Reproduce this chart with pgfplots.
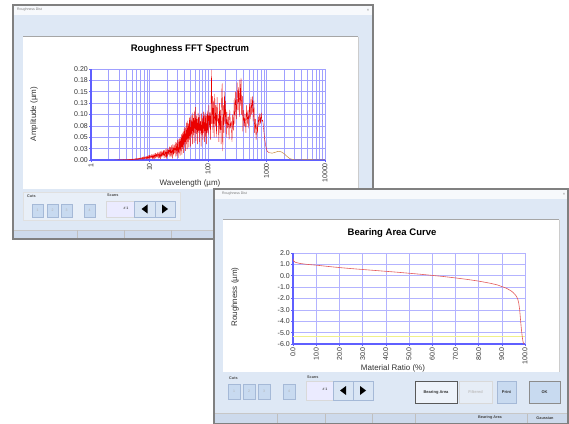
\documentclass[border=0pt]{standalone}
\usepackage{fontspec}
\setmainfont{Liberation Sans}
\usepackage{pgfplots}
\usepackage{pgfplotstable}
\pgfplotsset{compat=1.18}
\definecolor{winbody}{RGB}{222,232,245}
\definecolor{winframe}{RGB}{128,128,128}
\definecolor{titlebar}{RGB}{247,249,252}
\definecolor{statusbar}{RGB}{205,218,236}
\definecolor{btnfill}{RGB}{200,218,240}
\definecolor{btnedge}{RGB}{165,185,215}
\definecolor{groupfill}{RGB}{232,239,248}
\definecolor{gridc}{RGB}{160,160,255}
\definecolor{axisc}{RGB}{95,95,255}
\definecolor{curvered}{RGB}{235,0,0}
\definecolor{bearred}{RGB}{228,90,90}
\definecolor{tailc}{RGB}{200,140,60}
\definecolor{paleyel}{RGB}{240,240,140}

\pgfplotstableread{
lx amp
0.40 0.0000
0.45 0.0001
0.50 0.0005
0.51 0.0001
0.52 0.0005
0.53 0.0002
0.54 0.0006
0.55 0.0001
0.56 0.0008
0.57 0.0002
0.58 0.0008
0.59 0.0002
0.60 0.0010
0.61 0.0002
0.62 0.0010
0.63 0.0004
0.64 0.0012
0.65 0.0003
0.66 0.0015
0.67 0.0004
0.68 0.0016
0.69 0.0003
0.70 0.0020
0.71 0.0006
0.72 0.0020
0.73 0.0009
0.74 0.0026
0.75 0.0006
0.76 0.0030
0.77 0.0008
0.78 0.0034
0.79 0.0004
0.80 0.0040
0.81 0.0012
0.82 0.0038
0.83 0.0018
0.84 0.0050
0.85 0.0010
0.86 0.0052
0.87 0.0014
0.88 0.0062
0.89 0.0008
0.90 0.0070
0.91 0.0021
0.92 0.0065
0.93 0.0030
0.94 0.0080
0.95 0.0018
0.96 0.0085
0.97 0.0025
0.98 0.0098
0.99 0.0012
1.00 0.0110
1.01 0.0034
1.02 0.0100
1.03 0.0046
1.04 0.0125
1.05 0.0026
1.06 0.0122
1.07 0.0032
1.08 0.0140
1.09 0.0016
1.10 0.0150
1.11 0.0046
1.12 0.0138
1.13 0.0064
1.14 0.0165
1.15 0.0035
1.16 0.0165
1.17 0.0045
1.18 0.0190
1.19 0.0022
1.20 0.0200
1.21 0.0060
1.22 0.0180
1.23 0.0090
1.24 0.0215
1.25 0.0046
1.26 0.0215
1.27 0.0058
1.28 0.0245
1.29 0.0030
1.30 0.0260
1.31 0.0080
1.32 0.0240
1.33 0.0115
1.34 0.0290
1.35 0.0060
1.36 0.0280
1.37 0.0078
1.38 0.0325
1.39 0.0035
1.40 0.0340
1.41 0.0105
1.42 0.0320
1.43 0.0150
1.44 0.0390
1.45 0.0080
1.46 0.0380
1.47 0.0100
1.48 0.0440
1.49 0.0050
1.50 0.0450
1.508 0.015
1.515 0.047
1.523 0.010
1.530 0.050
1.538 0.020
1.545 0.056
1.553 0.012
1.560 0.058
1.568 0.025
1.575 0.062
1.583 0.016
1.590 0.068
1.598 0.030
1.605 0.072
1.613 0.020
1.620 0.070
1.628 0.035
1.635 0.082
1.643 0.024
1.650 0.086
1.658 0.040
1.665 0.080
1.673 0.028
1.680 0.092
1.688 0.045
1.695 0.095
1.703 0.030
1.710 0.088
1.718 0.050
1.725 0.098
1.733 0.035
1.740 0.104
1.748 0.055
1.755 0.092
1.763 0.038
1.770 0.108
1.778 0.060
1.785 0.116
1.793 0.042
1.800 0.098
1.808 0.058
1.815 0.090
1.823 0.035
1.830 0.104
1.838 0.060
1.845 0.094
1.853 0.040
1.860 0.100
1.868 0.065
1.875 0.085
1.883 0.030
1.890 0.102
1.898 0.055
1.905 0.092
1.913 0.045
1.920 0.106
1.928 0.060
1.935 0.098
1.943 0.040
1.950 0.104
1.958 0.050
1.965 0.096
1.973 0.035
1.980 0.100
1.988 0.060
1.995 0.108
2.005 0.055
2.015 0.120
2.025 0.070
2.035 0.105
2.045 0.045
2.055 0.150
2.060 0.198
2.067 0.080
2.075 0.140
2.085 0.060
2.095 0.130
2.105 0.050
2.115 0.145
2.125 0.075
2.135 0.120
2.145 0.050
2.155 0.138
2.165 0.085
2.175 0.100
2.185 0.040
2.195 0.125
2.205 0.060
2.215 0.110
2.225 0.035
2.235 0.150
2.243 0.168
2.252 0.020
2.262 0.120
2.272 0.060
2.282 0.150
2.292 0.080
2.302 0.130
2.312 0.050
2.322 0.105
2.335 0.070
2.348 0.095
2.360 0.045
2.372 0.110
2.385 0.070
2.398 0.085
2.410 0.040
2.422 0.100
2.435 0.065
2.448 0.135
2.460 0.080
2.472 0.150
2.485 0.090
2.498 0.170
2.510 0.110
2.522 0.160
2.535 0.095
2.545 0.176
2.555 0.120
2.565 0.180
2.575 0.100
2.587 0.140
2.597 0.063
2.610 0.110
2.622 0.075
2.635 0.100
2.648 0.060
2.660 0.120
2.672 0.080
2.685 0.110
2.697 0.070
2.710 0.125
2.722 0.090
2.735 0.138
2.747 0.100
2.760 0.140
2.772 0.085
2.785 0.130
2.797 0.060
2.810 0.090
2.822 0.045
2.835 0.080
2.847 0.060
2.860 0.095
2.872 0.075
2.885 0.102
2.897 0.080
2.910 0.104
2.922 0.085
2.935 0.088
2.950 0.070
2.965 0.050
2.980 0.036
2.995 0.026
3.010 0.020
3.030 0.017
3.050 0.016
}\fftdata

\pgfplotstableread{
lx amp
3.05 0.016
3.10 0.015
3.15 0.017
3.20 0.019
3.25 0.018
3.30 0.014
3.35 0.008
3.40 0.003
3.45 0.001
3.50 0.000
3.60 0.0005
3.70 0.001
3.80 0.0005
3.90 0.000
4.00 0.000
}\taildata

\pgfplotstableread{
mr rough
0 1.50
0.3 1.30
1 1.18
3 1.08
6 1.00
10 0.93
15 0.82
20 0.72
25 0.63
30 0.55
35 0.47
40 0.39
45 0.31
50 0.22
55 0.13
60 0.03
65 -0.07
70 -0.19
75 -0.32
80 -0.47
85 -0.66
88 -0.80
90 -0.95
92 -1.10
94 -1.33
95 -1.50
96 -1.72
96.8 -2.00
97.3 -2.40
97.7 -3.00
98.0 -3.70
98.3 -4.40
98.6 -5.00
98.9 -5.50
99.2 -5.85
99.5 -6.00
}\beardata

\pgfplotsset{
 winplot/.style={
  scale only axis, anchor=south west,
  axis x line*=bottom, axis y line*=left,
  axis line style={-, axisc, line width=1.5pt},
  x axis line style={-}, y axis line style={-},
  grid=both,
  major grid style={gridc, line width=0.5pt},
  minor grid style={gridc, line width=0.5pt},
  tick style={axisc, line width=0.5pt},
  major tick length=2pt, minor tick length=0pt,
  tick align=outside,
  ticklabel style={font=\fontsize{7}{8}\selectfont, text=black!80},
  yticklabel style={inner sep=1pt},
  xticklabel style={rotate=90, anchor=east, inner sep=1pt},
 }
}

\begin{document}
\begin{tikzpicture}[x=1pt,y=1pt]
\fill[white] (0,0) rectangle (569,423);
\useasboundingbox (0,0) rectangle (569,423);

% ---------------- Window 1 ----------------
\fill[winbody] (13,184) rectangle (373,418);
\fill[titlebar] (13,408) rectangle (373,418);
\node[anchor=west, font=\fontsize{3.5}{4}\selectfont, text=black!55, inner sep=0] at (17,413) {Roughness Dist};
\node[font=\fontsize{4}{4}\selectfont, text=black!55, inner sep=0] at (368,413) {×};
\draw[black!35, line width=0.6pt] (23,387) -- (358,387);
\fill[white] (23,234) rectangle (358,386);
\draw[black!20, line width=0.5pt] (358,234) -- (358,386);
\filldraw[fill=groupfill, draw=black!12, line width=0.4pt] (23,203) rectangle (180,231);
\node[anchor=west, font=\fontsize{3.8}{4}\selectfont\bfseries, text=black!70, inner sep=0] at (27,226.5) {Cuts};
\node[anchor=west, font=\fontsize{3.8}{4}\selectfont\bfseries, text=black!70, inner sep=0] at (107,227.5) {Scans};
\foreach \a/\b/\t in {32/43/1, 47/58/2, 61/72/3, 84/95/4}{
  \filldraw[fill=btnfill, draw=btnedge, line width=0.4pt] (\a,206) rectangle (\b,219);
  \node[font=\fontsize{3.5}{4}\selectfont, text=black!30, inner sep=0] at ({(\a+\b)/2},212.5) {\t};
}
\filldraw[fill=white!92!blue, draw=black!15, line width=0.4pt] (106,206) rectangle (134,222);
\node[font=\fontsize{3.5}{4}\selectfont\bfseries, text=black!70, inner sep=0] at (126,214.5) {\# 1};
\filldraw[fill=btnfill!70!white, draw=btnedge, line width=0.4pt] (134,206) rectangle (155,222);
\filldraw[fill=btnfill!70!white, draw=btnedge, line width=0.4pt] (155,206) rectangle (175,222);
\fill[black] (141.5,214) -- (147.5,218.5) -- (147.5,209.5) -- cycle;
\fill[black] (168,214) -- (162,218.5) -- (162,209.5) -- cycle;
\fill[statusbar] (13,184) rectangle (373,193);
\draw[black!22, line width=0.4pt] (13,193) -- (373,193);
\foreach \s in {77,124,171}{\draw[black!25, line width=0.4pt] (\s,184) -- (\s,193);}
\draw[winframe, line width=1.4pt] (13,184) rectangle (373,418);

% ---------------- Chart 1 ----------------
\node[font=\fontsize{9.5}{11}\selectfont\bfseries] at (190,374) {Roughness FFT Spectrum};
\node[font=\fontsize{8}{9}\selectfont, rotate=90, text=black!80] at (34,309) {Amplitude (µm)};
\node[font=\fontsize{8}{9}\selectfont, text=black!80] at (190,239.5) {Wavelength (µm)};
\begin{axis}[winplot,
  at={(91pt,263pt)}, width=234pt, height=91pt,
  xmin=0, xmax=4, ymin=0, ymax=0.2,
  xtick={0,1,2,3,4}, xticklabels={1,10,100,1000,10000},
  minor xtick={0.301,0.477,0.602,0.699,0.778,0.845,0.903,0.954,
               1.301,1.477,1.602,1.699,1.778,1.845,1.903,1.954,
               2.301,2.477,2.602,2.699,2.778,2.845,2.903,2.954,
               3.301,3.477,3.602,3.699,3.778,3.845,3.903,3.954},
  ytick={0,0.025,0.05,0.075,0.1,0.125,0.15,0.175,0.2},
  yticklabels={0.00,0.03,0.05,0.08,0.10,0.13,0.15,0.18,0.20},
]
\addplot[curvered, line width=0.35pt, line join=round] table[x=lx, y=amp] {\fftdata};
\addplot[tailc, line width=0.5pt] table[x=lx, y=amp] {\taildata};
\end{axis}

% ---------------- Window 2 ----------------
\fill[winbody] (214,-1) rectangle (568,234);
\fill[titlebar] (214,224) rectangle (568,234);
\node[anchor=west, font=\fontsize{3.5}{4}\selectfont, text=black!55, inner sep=0] at (222,229) {Roughness Dist};
\node[font=\fontsize{4}{4}\selectfont, text=black!55, inner sep=0] at (564,229) {×};
\draw[black!35, line width=0.6pt] (223,203.5) -- (559,203.5);
\fill[white] (223,51) rectangle (559,203);
\draw[black!20, line width=0.5pt] (559,51) -- (559,203);
\node[anchor=west, font=\fontsize{3.8}{4}\selectfont\bfseries, text=black!70, inner sep=0] at (229,45) {Cuts};
\node[anchor=west, font=\fontsize{3.8}{4}\selectfont\bfseries, text=black!70, inner sep=0] at (307,46) {Scans};
\foreach \a/\b/\t in {228/240/1, 243/255/2, 258/270/3, 283/295/4}{
  \filldraw[fill=btnfill, draw=btnedge, line width=0.4pt] (\a,24) rectangle (\b,39);
  \node[font=\fontsize{3.5}{4}\selectfont, text=black!30, inner sep=0] at ({(\a+\b)/2},31.5) {\t};
}
\filldraw[fill=white!92!blue, draw=black!15, line width=0.4pt] (306,23) rectangle (333,42);
\node[font=\fontsize{3.5}{4}\selectfont\bfseries, text=black!70, inner sep=0] at (325,33.5) {\# 1};
\filldraw[fill=btnfill!70!white, draw=btnedge, line width=0.4pt] (333,23) rectangle (353,42);
\filldraw[fill=btnfill!70!white, draw=btnedge, line width=0.4pt] (353,23) rectangle (373,42);
\fill[black] (340,32.5) -- (346,37) -- (346,28) -- cycle;
\fill[black] (366,32.5) -- (360,37) -- (360,28) -- cycle;
\filldraw[fill={rgb,255:red,238;green,243;blue,250}, draw=black!65, line width=0.7pt] (415,20) rectangle (457,42);
\node[font=\fontsize{4}{4}\selectfont\bfseries, text=black!80, inner sep=0] at (436,31) {Bearing Area};
\filldraw[fill={rgb,255:red,230;green,237;blue,246}, draw=black!15, line width=0.4pt] (459,20) rectangle (492,42);
\node[font=\fontsize{4}{4}\selectfont\bfseries, text=black!25, inner sep=0] at (475.5,31) {Filtered};
\filldraw[fill=btnfill, draw=btnedge, line width=0.4pt] (497,20) rectangle (516,42);
\node[font=\fontsize{4}{4}\selectfont\bfseries, text=black!80, inner sep=0] at (506.5,31) {Print};
\filldraw[fill=btnfill, draw=black!45, line width=0.6pt] (529,20) rectangle (560,42);
\node[font=\fontsize{4}{4}\selectfont\bfseries, text=black!80, inner sep=0] at (544.5,31) {OK};
\fill[statusbar] (214,-1) rectangle (568,9.5);
\draw[black!22, line width=0.4pt] (214,9.5) -- (568,9.5);
\foreach \s in {277,325,372,415,527}{\draw[black!25, line width=0.4pt] (\s,-1) -- (\s,9.5);}
\node[font=\fontsize{3.8}{4}\selectfont\bfseries, text=black!75, inner sep=0] at (490,5) {Bearing Area};
\node[font=\fontsize{3.8}{4}\selectfont\bfseries, text=black!75, inner sep=0] at (545,5) {Gaussian};
\draw[winframe, line width=1.4pt] (214,-1) rectangle (568,234);

% ---------------- Chart 2 ----------------
\node[font=\fontsize{9.5}{11}\selectfont\bfseries] at (392,190) {Bearing Area Curve};
\node[font=\fontsize{8}{9}\selectfont, rotate=90, text=black!80] at (235,126) {Roughness (µm)};
\node[font=\fontsize{8}{9}\selectfont, text=black!80] at (393,55) {Material Ratio (\%)};
\begin{axis}[winplot,
  at={(293pt,79pt)}, width=232pt, height=91pt,
  xmin=0, xmax=100, ymin=-6, ymax=2,
  xtick={0,10,...,100},
  xticklabels={0.0,10.0,20.0,30.0,40.0,50.0,60.0,70.0,80.0,90.0,100.0},
  ytick={-6,-5,...,2},
  yticklabels={-6.0,-5.0,-4.0,-3.0,-2.0,-1.0,0.0,1.0,2.0},
  major grid style={gridc!80!white, line width=0.6pt},
]
\addplot[paleyel, line width=0.6pt] coordinates {(0,-5.3) (100,-5.3)};
\addplot[bearred, line width=0.6pt] table[x=mr, y=rough] {\beardata};
\end{axis}
\end{tikzpicture}
\end{document}
